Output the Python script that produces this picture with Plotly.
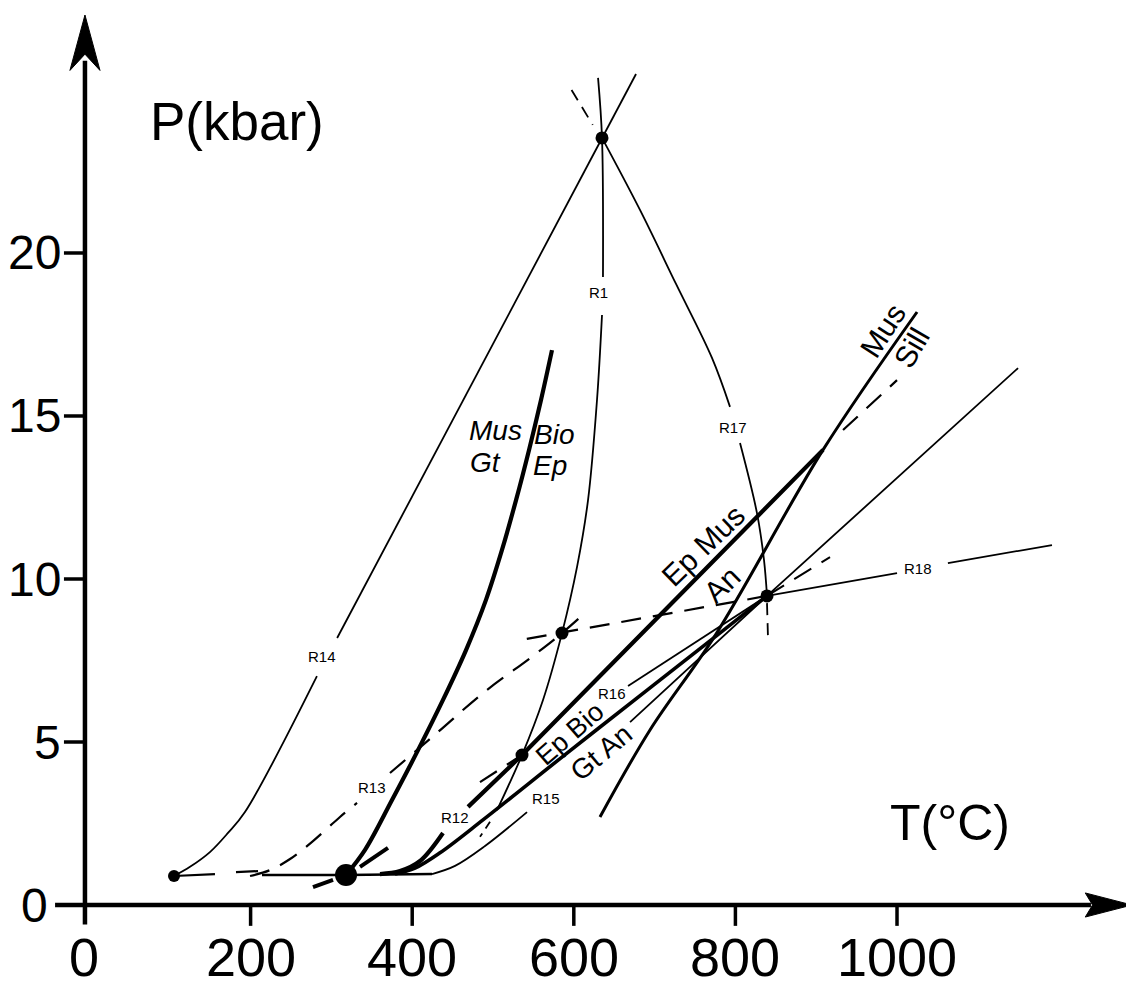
import plotly.graph_objects as go

# ---------------- data (T in degC, P in kbar) ----------------
X_TICKS = [0, 200, 400, 600, 800, 1000]
X_TICK_LABELS = ["0", "200", "400", "600", "800", "1000"]
Y_TICKS = [0, 5, 10, 15, 20]
Y_TICK_LABELS = ["0", "5", "10", "15", "20"]

# invariant points
INV_T = [634.9, 585.4, 839.1, 535.9]
INV_P = [23.53, 8.34, 9.48, 4.60]
E_T, E_P = [318.1], [0.92]
F_T, F_P = [105.2], [0.89]

# R14
R14a_T = [105.2, 125, 150, 172, 193, 282.1]
R14a_P = [0.89, 1.17, 1.63, 2.21, 2.85, 7.02]
R14b_T = [307.1, 634.9, 677.0]
R14b_P = [8.19, 23.53, 25.49]

# R1
R1a_T = [630.0, 634.9, 636.1]
R1a_P = [25.37, 23.53, 19.26]
R1b_T = [634.9, 628.7, 617.6, 604.0, 585.4, 561.9, 535.9, 505.0]
R1b_P = [18.10, 15.49, 12.42, 10.37, 8.34, 6.29, 4.60, 2.91]
R1c_T = [496.3, 483.9]
R1c_P = [2.55, 2.09]

# R17
R17x_T = [597.2, 623.4]
R17x_P = [25.00, 23.93]
R17a_T = [634.9, 681.9, 726.5, 771.0, 793.3]
R17a_P = [23.53, 21.32, 19.05, 16.78, 15.28]
R17b_T = [805.7, 826.7, 835.4, 839.1]
R17b_P = [14.17, 12.02, 10.58, 9.48]
R17c_T = [839.1, 840.3]
R17c_P = [9.26, 8.22]

# thick Mus Bio / Gt Ep curve
MB_T = [573.0, 559.4, 544.6, 528.5, 511.1, 491.3, 466.6, 438.1, 407.2, 375.0, 341.6, 318.1]
MB_P = [17.02, 15.49, 13.96, 12.42, 10.89, 9.36, 7.82, 6.29, 4.75, 3.22, 1.69, 0.92]
MBd1_T = [277.2, 302.0]
MBd1_P = [0.55, 0.77]
MBd2_T = [335.4, 370.0]
MBd2_P = [1.17, 1.75]

# F - E line and base line
FE1_T = [105.2, 155.9]
FE1_P = [0.89, 0.95]
FE2_T = [181.9, 209.2]
FE2_P = [1.01, 1.04]
BASE_T = [214.1, 318.1, 424.5]
BASE_P = [0.92, 0.92, 0.95]

# R13 (dashed)
R13a_T = [199.3, 224.0, 248.8, 277.2, 310.6, 331.7]
R13a_P = [0.89, 1.07, 1.41, 1.96, 2.70, 3.13]
R13b_T = [372.5, 430.7, 487.6, 549.5, 585.4, 613.9]
R13b_P = [4.05, 5.28, 6.50, 7.64, 8.34, 8.96]

# R12 + Ep Mus = An (thick)
R12a_T = [360.1, 384.9, 409.7, 438.1]
R12a_P = [0.95, 1.04, 1.35, 2.21]
R12b_T = [469.1, 535.9, 908.4]
R12b_P = [3.01, 4.60, 13.96]
EMx_T = [933.2, 1000.0]
EMx_P = [14.57, 16.10]

# Ep Bio = Gt An (thick)
L2_T = [378.7, 403.5, 434.4, 487.6, 591.6, 694.3, 776.0, 839.1]
L2_P = [0.95, 1.13, 1.60, 2.61, 4.66, 6.66, 8.25, 9.48]

# R15
R15a_T = [424.5, 453.0, 490.1, 542.1]
R15a_P = [0.95, 1.20, 1.81, 2.85]
R15b_T = [669.6, 839.1, 1149.8]
R15b_P = [5.61, 9.48, 16.47]

# R16
R16a_T = [667.1, 839.1]
R16a_P = [6.72, 9.48]
R16x_T = [839.1, 917.1]
R16x_P = [9.48, 10.67]
R16y_T = [483.9, 535.9]
R16y_P = [3.77, 4.60]

# R18
R18a_T = [839.1, 1000.0]
R18a_P = [9.48, 10.18]
R18b_T = [1063.0, 1191.8]
R18b_P = [10.49, 11.04]
R18x_T = [839.1, 585.4, 527.2]
R18x_P = [9.48, 8.34, 8.10]

# Mus = Sill (steep)
MS_T = [632.4, 694.3, 776.0, 908.4, 1024.8]
MS_P = [2.70, 5.37, 8.31, 13.96, 18.19]

# reaction number labels
RLAB = ["R1", "R17", "R14", "R13", "R12", "R15", "R16", "R18"]
RLAB_T = [630.0, 797.0, 288.4, 350.2, 453.0, 565.6, 647.3, 1026.0]
RLAB_P = [18.80, 14.66, 7.61, 3.59, 2.67, 3.28, 6.50, 10.31]

# phase labels
PH = ["Ep Mus", "An", "Ep Bio", "Gt An", "Mus", "Sill"]
PH_T = [759.9, 783.4, 594.7, 633.7, 982.7, 1018.6]
PH_P = [11.04, 9.82, 5.25, 4.69, 17.61, 17.09]
PH_ANG = [-44, -44, -41, -40, -57, -60]
PH_SIZE = [30, 30, 27, 28, 30, 30]

IT = ["Mus", "Bio", "Gt", "Ep"]
IT_T = [503.0, 575.0, 491.0, 570.0]
IT_P = [14.54, 14.42, 13.56, 13.47]

# ---------------- figure ----------------
fig = go.Figure()
K = "black"


def line(T, P, w=1.8, dash="solid", shape="linear"):
    fig.add_trace(go.Scatter(x=T, y=P, mode="lines",
                             line=dict(color=K, width=w, dash=dash, shape=shape),
                             hoverinfo="skip"))


DASH = "20px,12px"

# axes
line([-5, -5], [-0.6, 25.9], w=4.5)
line([-42, 1240], [0, 0], w=4.5)
for p in Y_TICKS[1:]:
    line([-31, -5], [p, p], w=3.5)
for t in X_TICKS[1:]:
    line([t, t], [0, -0.64], w=3.5)
fig.add_trace(go.Scatter(x=[-5, -23.6, -5, 13.6, -5], y=[27.3, 25.6, 26.1, 25.6, 27.3],
                         mode="lines", fill="toself", fillcolor=K,
                         line=dict(color=K, width=1), hoverinfo="skip"))
fig.add_trace(go.Scatter(x=[1290.8, 1233.0, 1242.0, 1233.0, 1290.8], y=[0, 0.37, 0, -0.37, 0],
                         mode="lines", fill="toself", fillcolor=K,
                         line=dict(color=K, width=1), hoverinfo="skip"))

# curves
line(R14a_T, R14a_P, shape="spline")
line(R14b_T, R14b_P)
line(R1a_T, R1a_P, shape="spline")
line(R1b_T, R1b_P, shape="spline")
line(R1c_T, R1c_P, dash="8px,6px")
line(R17x_T, R17x_P, dash="12px,8px")
line(R17a_T, R17a_P, shape="spline")
line(R17b_T, R17b_P, shape="spline")
line(R17c_T, R17c_P, dash="12px,8px")
line(MB_T, MB_P, w=4.2, shape="spline")
line(MBd1_T, MBd1_P, w=4)
line(MBd2_T, MBd2_P, w=4)
line(FE1_T, FE1_P, w=2.2)
line(FE2_T, FE2_P, w=2.2)
line(BASE_T, BASE_P, w=2.6)
line(R13a_T, R13a_P, w=2.2, dash=DASH, shape="spline")
line(R13b_T, R13b_P, w=2.2, dash=DASH, shape="spline")
line(R12a_T, R12a_P, w=4.2, shape="spline")
line(R12b_T, R12b_P, w=4.2)
line(EMx_T, EMx_P, w=2.2, dash=DASH)
line(L2_T, L2_P, w=3.6, shape="spline")
line(R15a_T, R15a_P, w=1.8, shape="spline")
line(R15b_T, R15b_P, w=1.8)
line(R16a_T, R16a_P, w=1.8)
line(R16x_T, R16x_P, w=2.0, dash=DASH)
line(R16y_T, R16y_P, w=2.2, dash=DASH)
line(R18a_T, R18a_P, w=1.8)
line(R18b_T, R18b_P, w=1.8)
line(R18x_T, R18x_P, w=2.2, dash=DASH)
line(MS_T, MS_P, w=3.0, shape="spline")

# points
fig.add_trace(go.Scatter(x=INV_T, y=INV_P, mode="markers",
                         marker=dict(color=K, size=13), hoverinfo="skip"))
fig.add_trace(go.Scatter(x=E_T, y=E_P, mode="markers",
                         marker=dict(color=K, size=22), hoverinfo="skip"))
fig.add_trace(go.Scatter(x=F_T, y=F_P, mode="markers",
                         marker=dict(color=K, size=12), hoverinfo="skip"))

ann = []
SANS = "Liberation Sans, Arial, sans-serif"
for t, lab in zip(X_TICKS, X_TICK_LABELS):
    ann.append(dict(x=t if t else -6, y=-0.62, yanchor="top", text=lab, showarrow=False,
                    font=dict(family=SANS, size=54, color=K)))
for p, lab in zip(Y_TICKS, Y_TICK_LABELS):
    ann.append(dict(x=-48 if p == 0 else -32, y=p, text=lab, showarrow=False, xanchor="right",
                    font=dict(family=SANS, size=48, color=K)))
for lab, t, p in zip(RLAB, RLAB_T, RLAB_P):
    ann.append(dict(x=t, y=p, text=lab, showarrow=False,
                    font=dict(family=SANS, size=15, color=K)))
for lab, t, p, a, s in zip(PH, PH_T, PH_P, PH_ANG, PH_SIZE):
    ann.append(dict(x=t, y=p, text=lab, showarrow=False, textangle=a,
                    font=dict(family=SANS, size=s, color=K)))
for lab, t, p in zip(IT, IT_T, IT_P):
    ann.append(dict(x=t, y=p, text="<i>" + lab + "</i>", showarrow=False,
                    font=dict(family=SANS, size=28, color=K)))
ann.append(dict(x=183, y=24.02, text="P(kbar)", showarrow=False,
                font=dict(family=SANS, size=53, color=K)))
ann.append(dict(x=1065.6, y=2.52, text="T(°C)", showarrow=False,
                font=dict(family=SANS, size=50, color=K)))

fig.update_layout(
    width=1126, height=983,
    margin=dict(l=0, r=0, t=0, b=0),
    paper_bgcolor="white", plot_bgcolor="white",
    showlegend=False,
    xaxis=dict(range=[-100.25, 1293.3], visible=False),
    yaxis=dict(range=[-2.638, 27.515], visible=False),
    annotations=ann,
)
fig.write_html("out.html")
